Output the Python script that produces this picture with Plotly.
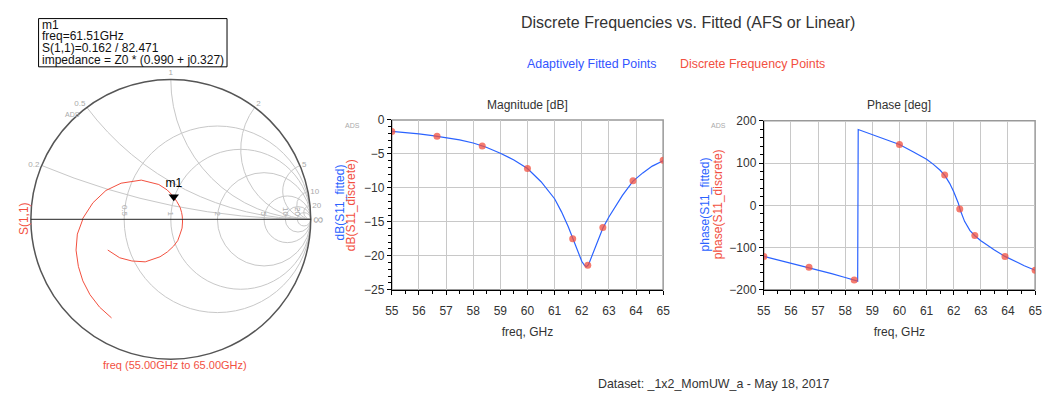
import numpy as np
import plotly.graph_objects as go

# ---------------- data ----------------
fit_freq = [55, 55.5, 56, 56.5, 57, 57.5, 58, 58.33, 58.46, 58.48, 59, 59.5, 60, 60.5, 61,
            61.25, 61.5, 61.67, 61.85, 62, 62.1, 62.17, 62.25, 62.4, 62.6, 62.78, 63, 63.25,
            63.5, 63.89, 64.25, 64.6, 65]
fit_db = [-1.7, -1.85, -2.05, -2.3, -2.6, -2.95, -3.4, -3.85, -4.0, -4.02, -4.9, -5.9, -7.15,
          -9.1, -11.6, -13.5, -15.7, -17.5, -19.3, -20.8, -21.4, -21.6, -21.3, -19.8, -17.8,
          -15.9, -14.3, -12.6, -11.1, -9.0, -7.8, -6.8, -6.0]
fit_phase = [-121, -129, -137, -145, -153, -162, -171, -177, -179.5, 179.5, 168, 156, 144,
             127, 109, 97, 83, 71, 52, 32, 16, 5, -13, -38, -60, -72, -84, -96, -106, -121,
             -133, -143, -154]

disc_freq = [55, 56.667, 58.333, 60, 61.667, 62.222, 62.778, 63.889, 65]
disc_db = [-1.7, -2.4, -3.85, -7.15, -17.5, -21.4, -15.85, -8.95, -5.95]
disc_phase = [-121, -147, -177, 144, 71.5, -9, -71.5, -121, -154]

m1_real = [0.990]
m1_imag = [0.327]

mag_yticks = [0, -5, -10, -15, -20, -25]
ph_yticks = [200, 100, 0, -100, -200]
x_ticks = list(range(55, 66))

# Smith chart curve from fitted S11 (gamma -> normalized impedance)
gam = 10 ** (np.array(fit_db) / 20) * np.exp(1j * np.deg2rad(np.array(fit_phase)))
z = (1 + gam) / (1 - gam)

W, H = 1051, 400
FONT = "Arial, Liberation Sans, sans-serif"
BLUE = "#2b63ff"
RED = "#f2503f"
GRID = "#c8c8c8"


def px(x, y):
    return x / W, 1 - y / H


fig = go.Figure()

# Smith chart
fig.add_trace(go.Scattersmith(real=z.real, imag=z.imag, mode="lines",
                              line=dict(color=RED, width=1), subplot="smith",
                              showlegend=False, hoverinfo="skip"))
fig.add_trace(go.Scattersmith(real=m1_real, imag=m1_imag, mode="markers+text",
                              marker=dict(symbol="triangle-down", size=9, color="black"),
                              text=["m1"], textposition="top center",
                              textfont=dict(family=FONT, size=12, color="black"),
                              subplot="smith", showlegend=False))

# Magnitude
fig.add_trace(go.Scatter(x=fit_freq, y=fit_db, mode="lines", line=dict(color=BLUE, width=1.2),
                         xaxis="x", yaxis="y", showlegend=False))
fig.add_trace(go.Scatter(x=disc_freq, y=disc_db, mode="markers",
                         marker=dict(color="rgba(242,80,63,0.75)", size=7),
                         xaxis="x", yaxis="y", showlegend=False))
# Phase
fig.add_trace(go.Scatter(x=fit_freq, y=fit_phase, mode="lines", line=dict(color=BLUE, width=1.2),
                         xaxis="x2", yaxis="y2", showlegend=False))
fig.add_trace(go.Scatter(x=disc_freq, y=disc_phase, mode="markers",
                         marker=dict(color="rgba(242,80,63,0.75)", size=7),
                         xaxis="x2", yaxis="y2", showlegend=False))

xax = dict(range=[55, 65], tickvals=x_ticks, showgrid=True, gridcolor=GRID, gridwidth=1,
           showline=True, linecolor="black", linewidth=1, ticks="outside", ticklen=4,
           tickcolor="black", tickfont=dict(family=FONT, size=12, color="#333"),
           ticklabelstandoff=6,
           minor=dict(dtick=0.5, ticklen=3, tickcolor="black", ticks="outside", showgrid=False),
           zeroline=False, fixedrange=True,
           title=dict(text="freq, GHz", font=dict(family=FONT, size=12, color="#333"), standoff=10))

fig.update_layout(
    width=W, height=H, margin=dict(l=0, r=0, t=0, b=0),
    paper_bgcolor="white", plot_bgcolor="white", showlegend=False,
    font=dict(family=FONT, size=12, color="#333"),
    smith=dict(
        domain=dict(x=[21 / W, 311 / W], y=[1 - 365 / H, 1 - 75 / H]),
        bgcolor="white",
        realaxis=dict(tickvals=[0.5, 1, 2, 5, 10, 20], gridcolor=GRID, linecolor="#222",
                      linewidth=1, showline=True,
                      tickfont=dict(family=FONT, size=8, color="#aaa")),
        imaginaryaxis=dict(tickvals=[0.2, 0.5, 1, 2, 5, 10, 20], gridcolor=GRID,
                           linecolor="#555", linewidth=1.5, showline=True,
                           tickfont=dict(family=FONT, size=8, color="#aaa")),
    ),
    xaxis=dict(domain=[390 / W, 665 / W], anchor="y", **xax),
    yaxis=dict(domain=[1 - 293 / H, 1 - 117 / H], anchor="x", range=[-25, 0], tickvals=mag_yticks,
               showgrid=True, gridcolor=GRID, showline=True, linecolor="black", ticks="outside",
               ticklen=4, tickcolor="black", tickfont=dict(family=FONT, size=12, color="#333"),
               minor=dict(dtick=1, ticklen=3, tickcolor="black", ticks="outside", showgrid=False),
               zeroline=False, fixedrange=True),
    xaxis2=dict(domain=[767 / W, 1042 / W], anchor="y2", **xax),
    yaxis2=dict(domain=[1 - 293 / H, 1 - 118 / H], anchor="x2", range=[-200, 200],
                tickvals=ph_yticks, showgrid=True, gridcolor=GRID, showline=True,
                linecolor="black", ticks="outside", ticklen=4, tickcolor="black",
                tickfont=dict(family=FONT, size=12, color="#333"),
                minor=dict(dtick=20, ticklen=3, tickcolor="black", ticks="outside", showgrid=False),
                zeroline=False, fixedrange=True),
)

# plot frames (top/right gray border)
for xr, yr in [("x domain", "y domain"), ("x2 domain", "y2 domain")]:
    fig.add_shape(type="rect", xref=xr, yref=yr, x0=0, x1=1, y0=0, y1=1,
                  line=dict(color="#999", width=1.5), layer="below")

ann = []


def add_text(x, y, text, size=12, color="#333", angle=0, xanchor="center"):
    xp, yp = px(x, y)
    ann.append(dict(x=xp, y=yp, xref="paper", yref="paper", text=text, showarrow=False,
                    xanchor=xanchor, yanchor="middle", textangle=angle,
                    font=dict(family=FONT, size=size, color=color)))


# marker readout box
fig.add_shape(type="rect", xref="paper", yref="paper", x0=32 / W, x1=223 / W,
              y0=1 - 62 / H, y1=1 - 12 / H, line=dict(color="black", width=1))
for i, t in enumerate(["m1", "freq=61.51GHz", "S(1,1)=0.162 / 82.471",
                       "impedance = Z0 * (0.990 + j0.327)"]):
    add_text(33, 18.5 + 12 * i, t, size=12, color="#111", xanchor="left")

add_text(690, 16, "Discrete Frequencies vs. Fitted (AFS or Linear)", size=16, color="#333")
add_text(592, 59, "Adaptively Fitted Points", size=12.4, color="#3355ff")
add_text(756, 59, "Discrete Frequency Points", size=12.4, color=RED)
add_text(528, 102, "Magnitude [dB]", size=12)
add_text(904, 102, "Phase [deg]", size=12)
add_text(337, 203, "dB(S11_fitted)", size=12, color=BLUE, angle=-90)
add_text(348, 205, "dB(S11_discrete)", size=12, color=RED, angle=-90)
add_text(707, 205, "phase(S11_fitted)", size=12, color=BLUE, angle=-90)
add_text(720, 204, "phase(S11_discrete)", size=12, color=RED, angle=-90)
add_text(18, 219, "S(1,1)", size=12, color=RED, angle=-90)
add_text(170, 371, "freq (55.00GHz to 65.00GHz)", size=11, color=RED)
add_text(66, 111, "ADS", size=7, color="#aaa")
add_text(350, 123, "ADS", size=7, color="#aaa")
add_text(721, 123, "ADS", size=7, color="#aaa")
add_text(717, 391, "Dataset: _1x2_MomUW_a - May 18, 2017", size=12.4, color="#333")

fig.update_layout(annotations=ann)
fig.write_html("out.html")
